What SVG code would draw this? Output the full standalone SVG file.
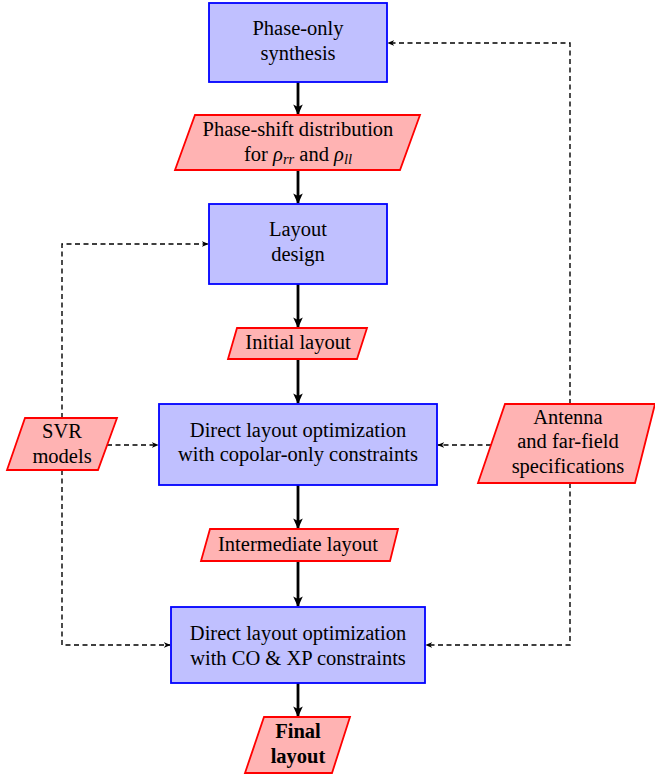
<svg xmlns="http://www.w3.org/2000/svg" width="655" height="776" viewBox="0 0 655 776">
<defs>
<style>
.proc{fill:#c0c0ff;stroke:#0000ff;stroke-width:1.8}
.data{fill:#ffb3b3;stroke:#ff0000;stroke-width:1.8}
text{font-family:'Liberation Serif','Times New Roman',serif;font-size:20.5px;fill:#000;text-anchor:middle}
.b{font-weight:bold}
.m{font-style:italic}
.solid{stroke:#000;stroke-width:2.8;fill:none;marker-end:url(#ah)}
.dash{stroke:#000;stroke-width:1.4;fill:none;stroke-dasharray:5,3.5;marker-end:url(#dh)}
</style>
<marker id="ah" viewBox="0 0 10 10" refX="9" refY="5" markerWidth="3.8" markerHeight="3.8" orient="auto" markerUnits="strokeWidth">
<path d="M0,0.5 L10,5 L0,9.5 L2.5,5 Z" fill="#000"/>
</marker>
<marker id="dh" viewBox="0 0 10 10" refX="9" refY="5" markerWidth="5" markerHeight="5" orient="auto" markerUnits="strokeWidth">
<path d="M0,1 L10,5 L0,9 L3,5 Z" fill="#000"/>
</marker>
</defs>
<g id="connectors">
<line class="solid" x1="298" y1="82" x2="298" y2="114"/>
<line class="solid" x1="298" y1="170" x2="298" y2="203"/>
<line class="solid" x1="298" y1="284" x2="298" y2="327"/>
<line class="solid" x1="298" y1="359" x2="298" y2="403"/>
<line class="solid" x1="298" y1="485" x2="298" y2="528"/>
<line class="solid" x1="298" y1="561" x2="298" y2="606"/>
<line class="solid" x1="298" y1="683" x2="298" y2="716"/>
<polyline class="dash" points="570,404 570,43 388,43"/>
<polyline class="dash" points="570,483 570,645 426,645"/>
<polyline class="dash" points="491,445 438,445"/>
<polyline class="dash" points="62,418 62,244 208,244"/>
<polyline class="dash" points="62,470 62,645 170,645"/>
<polyline class="dash" points="107,445 158,445"/>
</g>
<g id="n1"><rect class="proc" x="209" y="3" width="178" height="79"/><text x="298" y="35">Phase-only</text><text x="298" y="60">synthesis</text></g>
<g id="n2"><polygon class="data" points="195,115 420,115 400,170 175,170"/><text x="298" y="136">Phase-shift distribution</text><text x="298" y="161">for <tspan class="m">ρ</tspan><tspan class="m" font-size="14.5" dy="3">rr</tspan><tspan dy="-3"> and </tspan><tspan class="m">ρ</tspan><tspan class="m" font-size="14.5" dy="3">ll</tspan></text></g>
<g id="n3"><rect class="proc" x="209" y="204" width="178" height="80"/><text x="298" y="236">Layout</text><text x="298" y="261">design</text></g>
<g id="n4"><polygon class="data" points="237,328 367,328 357,359 228,359"/><text x="298" y="349">Initial layout</text></g>
<g id="n5"><rect class="proc" x="159" y="404" width="278" height="81"/><text x="298" y="437">Direct layout optimization</text><text x="298" y="461">with copolar-only constraints</text></g>
<g id="n6"><polygon class="data" points="210,529 398,529 390,561 201,561"/><text x="298" y="551">Intermediate layout</text></g>
<g id="n7"><rect class="proc" x="171" y="607" width="254" height="76"/><text x="298" y="640">Direct layout optimization</text><text x="298" y="665">with CO &amp; XP constraints</text></g>
<g id="n8"><polygon class="data" points="264,717 350,717 332,773 245,773"/><text class="b" x="298" y="738">Final</text><text class="b" x="298" y="763">layout</text></g>
<g id="n9"><polygon class="data" points="25,418 117,418 98,470 7,470"/><text x="62" y="438">SVR</text><text x="62" y="463">models</text></g>
<g id="n10"><polygon class="data" points="505,404 655,404 635,483 478,483"/><text x="568" y="424">Antenna</text><text x="568" y="448">and far-field</text><text x="568" y="473">specifications</text></g>
</svg>
